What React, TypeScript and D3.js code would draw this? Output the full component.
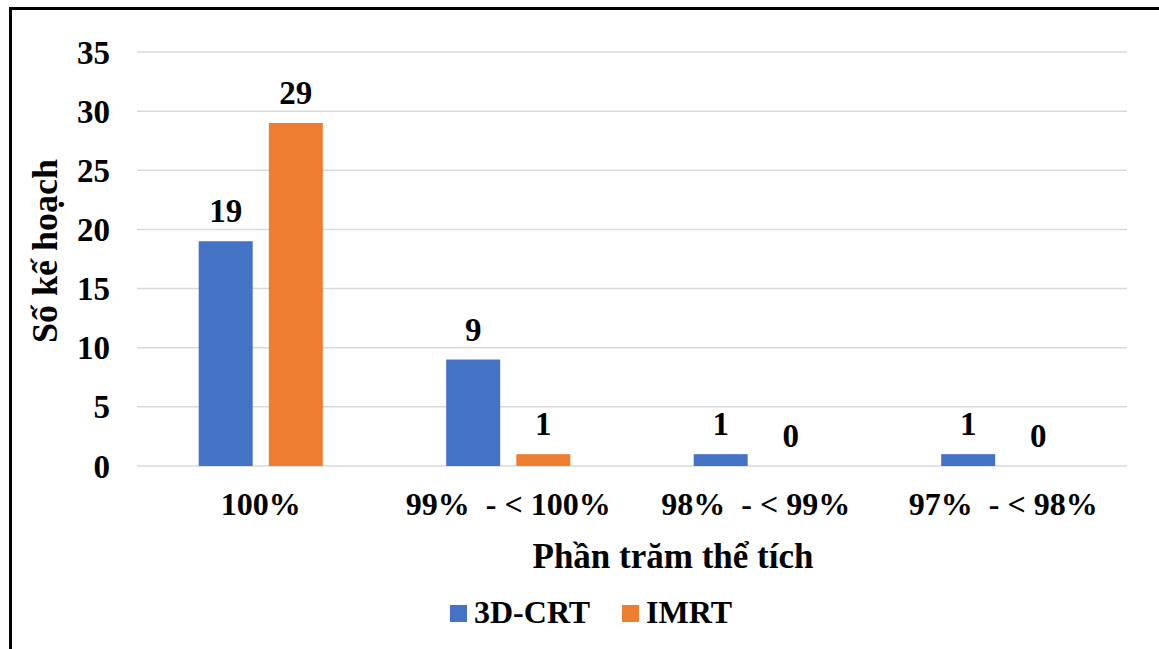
import React from "react";
import * as d3 from "d3";

const categories = ["100%", "99%  - < 100%", "98%  - < 99%", "97%  - < 98%"];
const seriesNames = ["3D-CRT", "IMRT"];
const crtValues = [19, 9, 1, 1];
const imrtValues = [29, 1, 0, 0];
const yTicks = [0, 5, 10, 15, 20, 25, 30, 35];
const colors = ["#4472C4", "#ED7D31"];

const W = 1159;
const H = 649;
const margin = { left: 137, right: 1127, top: 52, bottom: 466 };
const FONT = "'Liberation Serif', 'Times New Roman', serif";

export default function App() {
  const x = d3.scaleBand<string>().domain(categories).range([margin.left, margin.right]);
  const inner = d3
    .scaleBand<string>()
    .domain(seriesNames)
    .range([0, x.bandwidth()])
    .paddingInner(0.23)
    .paddingOuter(0.88);
  const y = d3.scaleLinear().domain([0, 35]).range([margin.bottom, margin.top]);
  const series = [crtValues, imrtValues];

  return (
    <svg width={W} height={H} style={{ position: "absolute", left: 0, top: 0 }} fontFamily={FONT}>
      <rect x={0} y={0} width={W} height={H} fill="#fff" />
      {/* frame */}
      <path d={`M10.5,${H + 5} V8.5 H${W + 5}`} fill="none" stroke="#000" strokeWidth={3} />
      {/* gridlines */}
      {yTicks.map((t) => (
        <line key={t} x1={margin.left} x2={margin.right} y1={y(t)} y2={y(t)} stroke="#d9d9d9" strokeWidth={1.5} />
      ))}
      {/* y tick labels */}
      {yTicks.map((t) => (
        <text key={t} x={110} y={y(t)} dy="0.35em" textAnchor="end" fontSize={33} fontWeight="bold" fill="#000">
          {t}
        </text>
      ))}
      {/* bars and value labels */}
      {series.map((vals, si) =>
        vals.map((v, ci) => {
          const bx = (x(categories[ci]) as number) + (inner(seriesNames[si]) as number);
          const bw = inner.bandwidth();
          return (
            <g key={`${si}-${ci}`}>
              <rect x={bx} y={y(v)} width={bw} height={y(0) - y(v)} fill={colors[si]} />
              <text x={bx + bw / 2} y={y(v) - 19} textAnchor="middle" fontSize={33} fontWeight="bold" fill="#000">
                {v}
              </text>
            </g>
          );
        })
      )}
      {/* category labels */}
      {categories.map((c) => (
        <text
          key={c}
          x={(x(c) as number) + x.bandwidth() / 2}
          y={515}
          textAnchor="middle"
          fontSize={32}
          fontWeight="bold"
          fill="#000"
          style={{ whiteSpace: "pre" }}
        >
          {c}
        </text>
      ))}
      {/* axis titles */}
      <text x={673} y={568} textAnchor="middle" fontSize={35} fontWeight="bold" fill="#000">
        Phần trăm thể tích
      </text>
      <text transform="translate(57,251) rotate(-90)" textAnchor="middle" fontSize={36} fontWeight="bold" fill="#000">
        Số kế hoạch
      </text>
      {/* legend */}
      {seriesNames.map((s, i) => {
        const lx = i === 0 ? 450 : 622;
        return (
          <g key={s}>
            <rect x={lx} y={605} width={17} height={17} fill={colors[i]} />
            <text x={lx + 24} y={623} fontSize={32} fontWeight="bold" fill="#000">
              {s}
            </text>
          </g>
        );
      })}
    </svg>
  );
}
